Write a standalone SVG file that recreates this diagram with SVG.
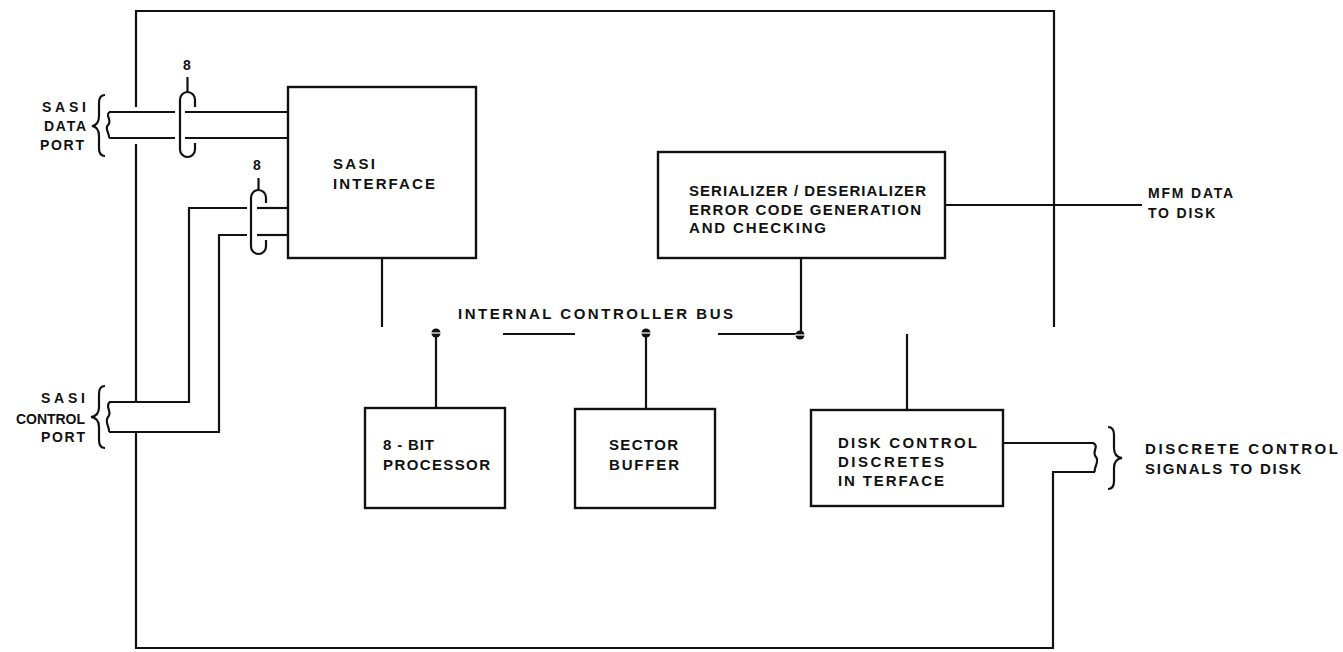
<svg xmlns="http://www.w3.org/2000/svg" width="1343" height="652" viewBox="0 0 1343 652">
<style>
  .ln { fill: none; stroke: #111; stroke-width: 2.2; stroke-linecap: butt; stroke-linejoin: miter; }
  .bx { fill: none; stroke: #111; stroke-width: 2.4; }
  .t { font-family: "Liberation Sans", Arial, sans-serif; font-weight: bold; font-size: 15px; fill: #111; }
  .s { font-size: 14px; }
  .dot { fill: #111; }
  .gap { stroke: #fff; stroke-width: 1.2; }
</style>
<defs>
  <g id="busdot">
    <circle class="dot" cx="0" cy="0" r="4.6"/>
    <line class="gap" x1="-5" y1="0" x2="5" y2="0"/>
  </g>
</defs>
<rect width="1343" height="652" fill="#fff"/>

<g id="frame">
  <path class="ln" d="M136,107 V11 H1054 V327"/>
  <path class="ln" d="M136,144 V402"/>
  <path class="ln" d="M136,432 V648 H1053 V472"/>
</g>

<g id="sasi-interface">
  <rect class="bx" x="288" y="87" width="188" height="171"/>
  <text class="t" x="333" y="168.5" textLength="42" lengthAdjust="spacing">SASI</text>
  <text class="t" x="333" y="188.5" textLength="102" lengthAdjust="spacing">INTERFACE</text>
</g>

<g id="serdes">
  <rect class="bx" x="658" y="152" width="287" height="106"/>
  <text class="t" x="689" y="195.5" textLength="237" lengthAdjust="spacing">SERIALIZER / DESERIALIZER</text>
  <text class="t" x="689" y="214.5" textLength="232" lengthAdjust="spacing">ERROR CODE GENERATION</text>
  <text class="t" x="689" y="232.5" textLength="137" lengthAdjust="spacing">AND CHECKING</text>
</g>

<g id="processor">
  <rect class="bx" x="365" y="408" width="140" height="100"/>
  <text class="t" x="383" y="449.5" textLength="51" lengthAdjust="spacing">8 - BIT</text>
  <text class="t" x="383" y="469.5" textLength="107" lengthAdjust="spacing">PROCESSOR</text>
</g>

<g id="sector-buffer">
  <rect class="bx" x="575" y="409" width="140" height="99"/>
  <text class="t" x="609" y="449.5" textLength="69" lengthAdjust="spacing">SECTOR</text>
  <text class="t" x="609" y="469.5" textLength="70" lengthAdjust="spacing">BUFFER</text>
</g>

<g id="disk-control">
  <rect class="bx" x="811" y="410" width="192" height="96"/>
  <text class="t" x="838" y="447.5" textLength="139" lengthAdjust="spacing">DISK CONTROL</text>
  <text class="t" x="838" y="466.5" textLength="106" lengthAdjust="spacing">DISCRETES</text>
  <text class="t" x="838" y="485.5" textLength="106" lengthAdjust="spacing">IN TERFACE</text>
</g>

<g id="bus-label">
  <text class="t" x="458" y="318.5" textLength="275" lengthAdjust="spacing">INTERNAL CONTROLLER BUS</text>
</g>

<g id="sasi-data-port">
  <text class="t s" x="42" y="112" textLength="44" lengthAdjust="spacing">SASI</text>
  <text class="t s" x="44" y="131" textLength="42" lengthAdjust="spacing">DATA</text>
  <text class="t s" x="40" y="150" textLength="44" lengthAdjust="spacing">PORT</text>
  <path class="ln" d="M105,95 q-6,0 -6,8 v13 q0,9 -7,10 q7,1 7,10 v12 q0,8 6,8"/>
</g>

<g id="sasi-control-port">
  <text class="t s" x="41" y="403" textLength="44" lengthAdjust="spacing">SASI</text>
  <text class="t s" x="16" y="424" textLength="69" lengthAdjust="spacing">CONTROL</text>
  <text class="t s" x="41" y="442" textLength="44" lengthAdjust="spacing">PORT</text>
  <path class="ln" d="M105,386 q-6,0 -6,8 v13 q0,9 -8,10 q8,1 8,10 v13 q0,8 6,8"/>
</g>

<g id="mfm-label">
  <text class="t s" x="1148" y="198" letter-spacing="1.8">MFM DATA</text>
  <text class="t s" x="1148" y="218" letter-spacing="1.8">TO DISK</text>
</g>

<g id="discrete-label">
  <text class="t" x="1145" y="453.5" textLength="193" lengthAdjust="spacing">DISCRETE CONTROL</text>
  <text class="t" x="1145" y="473.5" textLength="156" lengthAdjust="spacing">SIGNALS TO DISK</text>
  <path class="ln" d="M1108,427 q6,0 6,8 v13 q0,9 8,10 q-8,1 -8,10 v13 q0,8 -6,8"/>
</g>

<g id="connectors">
  <!-- SASI data port cable -->
  <path class="ln" d="M110,112 C104,115 113,120 108,125 C104,129 110,133 109,138"/>
  <line class="ln" x1="109" y1="112" x2="175" y2="112"/>
  <line class="ln" x1="109" y1="138" x2="175" y2="138"/>
  <line class="ln" x1="185" y1="112" x2="288" y2="112"/>
  <line class="ln" x1="185" y1="138" x2="288" y2="138"/>
  <!-- clamp 1 -->
  <path class="ln" d="M195,107 V99.5 A7.5,7.5 0 0 0 180,99.5 V149.5 A7.5,7.5 0 0 0 195,149.5 V143"/>
  <line class="ln" x1="187.5" y1="77" x2="187.5" y2="92"/>
  <text class="t s" x="187" y="70" text-anchor="middle">8</text>

  <!-- SASI control port cable -->
  <path class="ln" d="M110,402 C104,406 113,412 108,417 C104,422 110,427 109,432"/>
  <path class="ln" d="M109,402 H189 V208 H247"/>
  <path class="ln" d="M109,432 H219 V235 H247"/>
  <line class="ln" x1="257" y1="208" x2="288" y2="208"/>
  <line class="ln" x1="257" y1="235" x2="288" y2="235"/>
  <!-- clamp 2 -->
  <path class="ln" d="M266,203 V197.5 A7.5,7.5 0 0 0 251,197.5 V246.5 A7.5,7.5 0 0 0 266,246.5 V240"/>
  <line class="ln" x1="258.5" y1="178" x2="258.5" y2="190"/>
  <text class="t s" x="257" y="170" text-anchor="middle">8</text>

  <!-- internal bus -->
  <line class="ln" x1="382" y1="258" x2="382" y2="327"/>
  <line class="ln" x1="503" y1="334" x2="575" y2="334"/>
  <line class="ln" x1="718" y1="334" x2="796" y2="334"/>
  <line class="ln" x1="436" y1="337" x2="436" y2="408"/>
  <line class="ln" x1="646" y1="337" x2="646" y2="409"/>
  <line class="ln" x1="801" y1="258" x2="801" y2="331"/>
  <line class="ln" x1="907" y1="334" x2="907" y2="410"/>
  <use href="#busdot" x="436" y="333"/>
  <use href="#busdot" x="646" y="333"/>
  <use href="#busdot" x="800" y="335"/>

  <!-- MFM data -->
  <line class="ln" x1="945" y1="205" x2="1142" y2="205"/>

  <!-- discrete control signals -->
  <line class="ln" x1="1003" y1="443" x2="1094" y2="443"/>
  <line class="ln" x1="1052" y1="472" x2="1095" y2="472"/>
  <path class="ln" d="M1093,443 C1100,446 1091,452 1096,457 C1100,462 1093,468 1095,472"/>
</g>
</svg>
